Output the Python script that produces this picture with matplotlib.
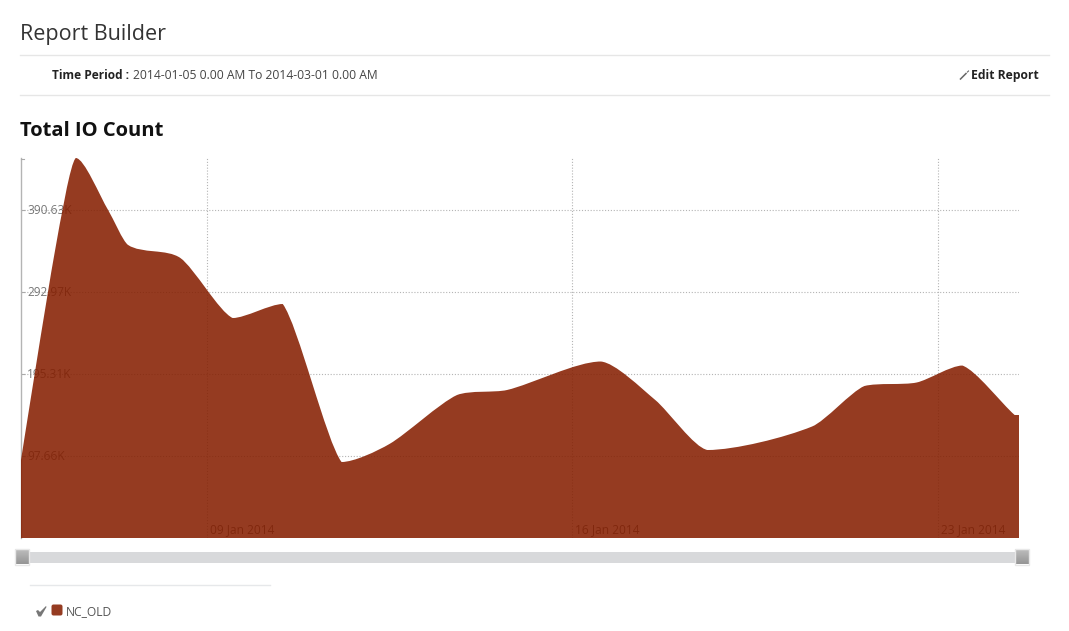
import matplotlib
matplotlib.use("Agg")
import matplotlib.pyplot as plt
import matplotlib.dates as mdates
from matplotlib.path import Path
from matplotlib.patches import PathPatch, Rectangle, FancyBboxPatch, Polygon
from matplotlib.transforms import ScaledTranslation
import numpy as np

plt.rcParams['font.family'] = ['Open Sans', 'DejaVu Sans']

W, H = 1069, 631
PLOT_L, PLOT_R, PLOT_T, PLOT_B = 21, 1019, 158, 538

times = ["2014-01-05 10:50", "2014-01-06 02:30", "2014-01-06 12:00", "2014-01-07 02:50",
         "2014-01-07 12:00", "2014-01-08 12:00",
         "2014-01-09 12:00", "2014-01-10 11:00", "2014-01-11 14:00", "2014-01-12 12:00",
         "2014-01-13 19:00", "2014-01-14 18:00", "2014-01-16 13:00", "2014-01-17 14:00",
         "2014-01-18 14:00", "2014-01-20 14:00", "2014-01-21 14:00", "2014-01-22 14:00",
         "2014-01-23 11:00", "2014-01-24 11:00", "2014-01-24 13:00"]
io_count = [92.9, 343.0, 452.6, 390.6, 349.0, 333.5, 262.0, 278.7, 90.5, 112.0, 170.3, 176.3,
            210.2, 164.4, 104.8, 132.8, 181.0, 185.2, 205.4, 146.5, 146.5]
y_ticks = [97.66, 195.31, 292.97, 390.63]
y_labels = ["97.66K", "195.31K", "292.97K", "390.63K"]
x_ticks = ["2014-01-09", "2014-01-16", "2014-01-23"]
x_labels = ["09 Jan 2014", "16 Jan 2014", "23 Jan 2014"]
series_name = "NC_OLD"

FILL = "#851e00"
fig = plt.figure(figsize=(W / 100, H / 100), dpi=100, facecolor="white")


def spline_path(xs, ys, base, k=0.26):
    """Area outline of nearly straight runs with rounded corners at the knots."""
    xs, ys = np.asarray(xs), np.asarray(ys)
    verts, codes = [(xs[0], base), (xs[0], ys[0])], [Path.MOVETO, Path.LINETO]
    right = (xs[0], ys[0])
    for i in range(1, len(xs)):
        x, y = xs[i], ys[i]
        if i < len(xs) - 1:
            lx, ly = x + k * (xs[i - 1] - x), y + k * (ys[i - 1] - y)
            rx, ry = x + k * (xs[i + 1] - x), y + k * (ys[i + 1] - y)
            corr = (ry - ly) * (rx - x) / (rx - lx) + y - ry
            ly += corr
            ry += corr
            ly = min(ly, max(y, ys[i - 1]))
            ly = max(ly, min(y, ys[i - 1]))
            ry = min(ry, max(y, ys[i + 1]))
            ry = max(ry, min(y, ys[i + 1]))
        else:
            lx, ly, rx, ry = x, y, x, y
        verts += [right, (lx, ly), (x, y)]
        codes += [Path.CURVE4] * 3
        right = (rx, ry)
    verts += [(xs[-1], base), (xs[0], base)]
    codes += [Path.LINETO, Path.LINETO]
    return Path(verts, codes)


ax = fig.add_axes([PLOT_L / W, 1 - PLOT_B / H, (PLOT_R - PLOT_L) / W, (PLOT_B - PLOT_T) / H])
x_num = mdates.date2num(np.array(times, dtype="datetime64[m]"))
ax.set_xlim(x_num[0], x_num[-1])
ax.set_ylim(0, 452.6)
ax.set_axisbelow(True)
ax.add_patch(PathPatch(spline_path(x_num, io_count, 0), facecolor=FILL, edgecolor="none",
                       alpha=0.87, zorder=2))

ax.set_yticks(y_ticks, y_labels)
ax.set_xticks(mdates.date2num(np.array(x_ticks, dtype="datetime64[D]")), x_labels)
ax.grid(True, color="#b4b4b4", linestyle=(0, (1, 1.6)), linewidth=0.8)
ax.tick_params(axis="y", direction="in", length=3, width=0.8, color="#aaaaaa", pad=-4.5,
               labelcolor="#777777", labelsize=8.6)
ax.tick_params(axis="x", length=0, pad=-10.8, labelcolor="#666666", labelsize=8.6)
up = ScaledTranslation(0, 1 / 100, fig.dpi_scale_trans)
for t in ax.get_yticklabels():
    t.set_ha("left")
    t.set_transform(t.get_transform() + up)
off = ScaledTranslation(3 / 100, 0, fig.dpi_scale_trans)
for t in ax.get_xticklabels():
    t.set_ha("left")
    t.set_transform(t.get_transform() + off)
for s in ["top", "right", "bottom"]:
    ax.spines[s].set_visible(False)
ax.spines["left"].set_color("#b4b4b4")
ax.spines["left"].set_linewidth(1)
ax.spines["left"].set_zorder(1)

# Page furniture in pixel coordinates
ov = fig.add_axes([0, 0, 1, 1], facecolor="none")
ov.set_xlim(0, W)
ov.set_ylim(H, 0)
ov.axis("off")

ov.plot([21, 24], [158.5, 158.5], color="#aaaaaa", lw=0.8)
ov.text(20, 34.5, "Report Builder", fontsize=15.5, color="#333333", va="center", ha="left")
ov.plot([20, 1049], [55, 55], color="#e6e6e6", lw=1)
ov.plot([20, 1049], [95, 95], color="#e6e6e6", lw=1)
ov.text(52, 75.5, "Time Period :", fontsize=8.6, fontweight="bold", color="#222222", va="center")
ov.text(133, 75.5, "2014-01-05 0.00 AM To 2014-03-01 0.00 AM", fontsize=8.75, color="#444444", va="center")
ov.text(1039, 75.5, "Edit Report", fontsize=8.75, fontweight="bold", color="#222222", va="center", ha="right")
ov.plot([960.5, 966], [79, 73.5], color="#666666", lw=1.1)
ov.plot([967.5, 968.5], [72, 71], color="#666666", lw=0.8)
ov.text(20, 131, "Total IO Count", fontsize=14.5, fontweight="bold", color="#111111", va="center")

# Range slider
ov.add_patch(Rectangle((22, 552), 1000, 10.5, facecolor="#d8d9db", edgecolor="none"))
grad = np.linspace(0, 1, 16).reshape(-1, 1)
for x0 in (15, 1015):
    ov.imshow(grad, extent=(x0, x0 + 14, 564, 549), cmap=matplotlib.colors.LinearSegmentedColormap.from_list(
        "h", ["#bdbdbd", "#969696"]), aspect="auto", zorder=3, vmin=0, vmax=1)
    ov.add_patch(Rectangle((x0, 548.5), 14, 16, facecolor="none", edgecolor="#e8e8e8", lw=1, zorder=4))
ov.set_xlim(0, W)
ov.set_ylim(H, 0)

# Legend
ov.plot([30, 270], [585, 585], color="#e6e8ea", lw=1)
ov.add_patch(Polygon([(36, 611), (38, 610), (40, 612), (46, 606), (46.5, 607), (41, 616.5), (38.5, 616.5)],
                     facecolor="#777777", edgecolor="none"))
ov.add_patch(FancyBboxPatch((52.5, 605.5), 9, 9, boxstyle="round,pad=1,rounding_size=2",
                            facecolor="#953b21", edgecolor="none"))
ov.text(66, 611.5, series_name, fontsize=8.75, color="#555555", va="center")

fig.savefig("out.png", dpi=100)
